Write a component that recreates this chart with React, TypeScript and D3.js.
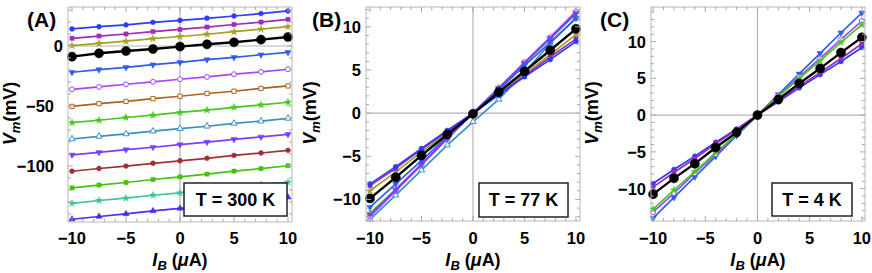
import React, { useEffect, useRef } from "react";
import * as d3 from "d3";

// bias current steps (uA)
const currentAB = [-10, -7.5, -5, -2.5, 0, 2.5, 5, 7.5, 10];
const currentC = [-10, -8, -6, -4, -2, 0, 2, 4, 6, 8, 10];

// T = 300 K
const blueCircleA = [14.2, 16.1, 17.6, 19.7, 21.3, 23.1, 25.0, 27.0, 29.2];
const purpleSquareA = [6.4, 8.3, 10.0, 12.0, 13.8, 15.8, 17.9, 19.9, 22.2];
const oliveStarA = [0.3, 2.2, 4.0, 6.1, 7.9, 9.8, 11.9, 14.1, 16.1];
const blackA = [-8.9, -6.1, -4.2, -2.5, -0.5, 1.4, 3.1, 5.3, 7.5];
const blueDownA = [-21.9, -19.7, -17.8, -15.6, -13.6, -11.4, -9.5, -7.3, -5.3];
const violetOpenA = [-36.1, -34.1, -31.9, -29.9, -27.7, -25.8, -23.5, -21.6, -19.4];
const brownOpenA = [-50.3, -48.1, -46.2, -43.9, -41.9, -39.6, -37.7, -35.4, -33.3];
const greenStarA = [-63.9, -61.9, -59.6, -57.7, -55.4, -53.4, -51.1, -49.1, -46.9];
const steelOpenA = [-77.5, -75.3, -73.3, -71.0, -68.9, -66.9, -64.5, -62.6, -60.3];
const violetDownA = [-90.8, -88.7, -86.4, -84.4, -82.2, -80.1, -77.8, -75.8, -73.6];
const darkRedA = [-104.4, -102.1, -100.1, -97.8, -95.7, -93.6, -91.2, -89.2, -87.0];
const greenSquareA = [-118.3, -115.9, -113.8, -111.3, -109.1, -106.8, -104.3, -102.2, -99.8];
const tealStarA = [-131.1, -128.8, -126.8, -124.4, -122.4, -120.1, -118.1, -115.7, -113.6];
const indigoUpA = [-144.4, -142.1, -140.0, -137.5, -135.3, -133.1, -130.6, -128.5, -126.1];

// T = 77 K
const blueCircleB = [-8.2, -6.2, -4.1, -2.0, 0.0, 2.1, 4.2, 6.2, 8.3];
const purpleSquareB = [-8.4, -6.4, -4.2, -2.1, 0.0, 2.2, 4.3, 6.5, 8.6];
const oliveStarB = [-9.0, -6.8, -4.5, -2.3, 0.0, 2.3, 4.5, 6.8, 9.1];
const blueDownB = [-10.9, -8.2, -5.5, -2.7, 0.0, 2.7, 5.5, 8.2, 11.0];
const violetOpenB = [-12.0, -9.0, -6.0, -3.0, 0.0, 2.9, 5.9, 8.8, 11.8];
const greenStarB = [-11.6, -8.8, -5.9, -2.9, 0.0, 2.9, 5.8, 8.6, 11.5];
const steelOpenB = [-12.3, -9.5, -6.6, -3.7, -1.0, 1.6, 4.7, 8.1, 11.0];
const violetDownB = [-11.8, -8.9, -5.9, -2.9, 0.0, 2.9, 5.8, 8.7, 11.6];
const blackB = [-9.88, -7.44, -4.9, -2.48, -0.08, 2.44, 4.85, 7.29, 9.77];

// T = 4 K
const blueCircleC = [-9.3, -7.4, -5.6, -3.7, -1.9, 0, 1.8, 3.7, 5.5, 7.3, 9.2];
const purpleSquareC = [-9.8, -7.8, -5.9, -3.9, -2.0, 0, 1.9, 3.9, 5.8, 7.7, 9.7];
const greenStarC = [-12.8, -10.2, -7.7, -5.1, -2.6, 0, 2.5, 5.0, 7.4, 9.9, 12.3];
const violetOpenC = [-13.2, -10.6, -7.9, -5.3, -2.6, 0, 2.6, 5.2, 7.7, 10.3, 12.8];
const blueDownC = [-14.0, -11.2, -8.4, -5.6, -2.8, 0, 2.8, 5.6, 8.4, 11.2, 13.9];
const blackC = [-10.75, -8.6, -6.6, -4.4, -2.35, 0, 2.13, 4.3, 6.35, 8.5, 10.57];

const STYLE = {
  blueCircle: { color: "#2c3cff", shape: "circle", open: false },
  purpleSquare: { color: "#a12cb4", shape: "square", open: false },
  oliveStar: { color: "#a3a31f", shape: "star", open: false },
  black: { color: "#000000", shape: "big", open: false },
  blueDown: { color: "#2e5de8", shape: "down", open: false },
  violetOpen: { color: "#a447ff", shape: "circle", open: true },
  brownOpen: { color: "#b0621e", shape: "square", open: true },
  greenStar: { color: "#45c81e", shape: "star", open: false },
  steelOpen: { color: "#3492c4", shape: "up", open: true },
  violetDown: { color: "#7f3cff", shape: "down", open: false },
  darkRed: { color: "#a3302f", shape: "circle", open: false },
  greenSquare: { color: "#44c20f", shape: "square", open: false },
  tealStar: { color: "#3fc592", shape: "star", open: false },
  indigoUp: { color: "#4b2fe6", shape: "up", open: false },
};

const panels = [
  {
    label: "(A)", temp: "T = 300 K", x: currentAB,
    frame: [68, 292, 7, 222], xDomain: [-10.37, 10.37], yDomain: [-146.7, 32.5],
    yMajor: [-100, -50, 0], yMinor: d3.range(-140, 31, 10),
    box: [184, 287, 183, 216], yTitleX: 16,
    series: [
      ["blueCircle", blueCircleA], ["purpleSquare", purpleSquareA], ["oliveStar", oliveStarA],
      ["blueDown", blueDownA], ["violetOpen", violetOpenA], ["brownOpen", brownOpenA],
      ["greenStar", greenStarA], ["steelOpen", steelOpenA], ["violetDown", violetDownA],
      ["darkRed", darkRedA], ["greenSquare", greenSquareA], ["tealStar", tealStarA],
      ["indigoUp", indigoUpA], ["black", blackA],
    ],
  },
  {
    label: "(B)", temp: "T = 77 K", x: currentAB,
    frame: [366, 580, 7, 221], xDomain: [-10.39, 10.39], yDomain: [-12.5, 12.3],
    yMajor: [-10, -5, 0, 5, 10], yMinor: d3.range(-12, 13, 1),
    box: [479, 568, 183, 217], yTitleX: 316,
    series: [
      ["steelOpen", steelOpenB], ["greenStar", greenStarB], ["violetOpen", violetOpenB],
      ["violetDown", violetDownB], ["blueDown", blueDownB], ["oliveStar", oliveStarB],
      ["purpleSquare", purpleSquareB], ["blueCircle", blueCircleB], ["black", blackB],
    ],
  },
  {
    label: "(C)", temp: "T = 4 K", x: currentC,
    frame: [651, 865, 7, 221], xDomain: [-10.2, 10.3], yDomain: [-14.4, 14.7],
    yMajor: [-10, -5, 0, 5, 10], yMinor: d3.range(-14, 15, 1),
    box: [772, 852, 183, 216], yTitleX: 598,
    series: [
      ["blueDown", blueDownC], ["violetOpen", violetOpenC], ["greenStar", greenStarC],
      ["blueCircle", blueCircleC], ["purpleSquare", purpleSquareC], ["black", blackC],
    ],
  },
];

const xMajor = [-10, -5, 0, 5, 10];
const xMinor = d3.range(-10, 11, 1);
const FONT = "'Liberation Sans', Arial, sans-serif";

function markerPath(shape) {
  if (shape === "big") return d3.symbol().type(d3.symbolCircle).size(66)();
  if (shape === "square") return d3.symbol().type(d3.symbolSquare).size(18)();
  if (shape === "star") return d3.symbol().type(d3.symbolStar).size(16)();
  if (shape === "up" || shape === "down") return d3.symbol().type(d3.symbolTriangle).size(17)();
  return d3.symbol().type(d3.symbolCircle).size(19)();
}

const App = () => {
  const ref = useRef();

  useEffect(() => {
    const svg = d3.select(ref.current);
    svg.selectAll("*").remove();

    panels.forEach((p) => {
      const [left, right, top, bottom] = p.frame;
      const x = d3.scaleLinear().domain(p.xDomain).range([left, right]);
      const y = d3.scaleLinear().domain(p.yDomain).range([bottom, top]);
      const g = svg.append("g");

      // zero axes
      g.append("line").attr("x1", x(0)).attr("x2", x(0)).attr("y1", top).attr("y2", bottom)
        .attr("stroke", "#b4b4b4").attr("stroke-width", 1.2);
      g.append("line").attr("x1", left).attr("x2", right).attr("y1", y(0)).attr("y2", y(0))
        .attr("stroke", "#b4b4b4").attr("stroke-width", 1.2);

      // series
      const line = d3.line().x((d) => x(d[0])).y((d) => y(d[1]));
      p.series.forEach(([key, vals]) => {
        const st = STYLE[key];
        const pts = p.x.map((v, i) => [v, vals[i]]);
        const big = st.shape === "big";
        g.append("path").attr("d", line(pts)).attr("fill", "none")
          .attr("stroke", st.color).attr("stroke-width", big ? 2.4 : 1.7);
        g.append("g").selectAll("path").data(pts).join("path")
          .attr("d", markerPath(st.shape))
          .attr("transform", (d) => `translate(${x(d[0])},${y(d[1])})${st.shape === "down" ? " rotate(180)" : ""}`)
          .attr("fill", st.open ? "#ffffff" : st.color)
          .attr("stroke", st.color)
          .attr("stroke-width", st.open ? 1 : 0.5);
      });

      // frame
      g.append("rect").attr("x", left).attr("y", top).attr("width", right - left).attr("height", bottom - top)
        .attr("fill", "none").attr("stroke", "#b8b8b8").attr("stroke-width", 1);

      const tickColor = "#a8a8a8";
      xMinor.forEach((v) => {
        const len = xMajor.includes(v) ? 5 : 3;
        g.append("line").attr("x1", x(v)).attr("x2", x(v)).attr("y1", bottom).attr("y2", bottom - len).attr("stroke", tickColor);
        g.append("line").attr("x1", x(v)).attr("x2", x(v)).attr("y1", top).attr("y2", top + len).attr("stroke", tickColor);
      });
      p.yMinor.forEach((v) => {
        const len = p.yMajor.includes(v) ? 5 : 3;
        g.append("line").attr("y1", y(v)).attr("y2", y(v)).attr("x1", left).attr("x2", left + len).attr("stroke", tickColor);
        g.append("line").attr("y1", y(v)).attr("y2", y(v)).attr("x1", right).attr("x2", right - len).attr("stroke", tickColor);
      });

      const fmt = d3.format("d");
      xMajor.forEach((v) => {
        g.append("text").attr("x", x(v)).attr("y", 244).attr("text-anchor", "middle")
          .attr("font-family", FONT).attr("font-weight", "bold").attr("font-size", 16.5).text(fmt(v));
      });
      p.yMajor.forEach((v) => {
        const lx = p.label === "(A)" ? (v === 0 ? 63 : 54) : left - 5;
        g.append("text").attr("x", lx).attr("y", y(v)).attr("dy", "0.36em").attr("text-anchor", "end")
          .attr("font-family", FONT).attr("font-weight", "bold").attr("font-size", 16.5).text(fmt(v));
      });

      // x title
      const xt = g.append("text").attr("x", (left + right) / 2).attr("y", 266).attr("text-anchor", "middle")
        .attr("font-family", FONT).attr("font-weight", "bold").attr("font-size", 18);
      xt.append("tspan").attr("font-style", "italic").text("I");
      xt.append("tspan").attr("font-style", "italic").attr("font-size", 13).attr("dy", 4).text("B");
      xt.append("tspan").attr("dy", -4).text(" (");
      xt.append("tspan").attr("font-style", "italic").text("μ");
      xt.append("tspan").text("A)");

      // y title
      const yt = g.append("text").attr("transform", `translate(${p.yTitleX},${(top + bottom) / 2 - 1}) rotate(-90)`)
        .attr("text-anchor", "middle").attr("font-family", FONT).attr("font-weight", "bold").attr("font-size", 18);
      yt.append("tspan").attr("font-style", "italic").text("V");
      yt.append("tspan").attr("font-style", "italic").attr("font-size", 13).attr("dy", 4).text("m");
      yt.append("tspan").attr("dy", -4).text("(mV)");

      // panel label
      const lbX = { "(A)": 27, "(B)": 312, "(C)": 600 }[p.label];
      g.append("text").attr("x", lbX).attr("y", 27).attr("font-family", FONT).attr("font-weight", "bold")
        .attr("font-size", 21).text(p.label);

      // temperature box
      const [bl, br, bt, bb] = p.box;
      g.append("rect").attr("x", bl).attr("y", bt).attr("width", br - bl).attr("height", bb - bt)
        .attr("fill", "#ffffff").attr("stroke", "#222").attr("stroke-width", 1.5);
      g.append("text").attr("x", (bl + br) / 2).attr("y", (bt + bb) / 2).attr("dy", "0.36em")
        .attr("text-anchor", "middle").attr("font-family", FONT).attr("font-weight", "bold")
        .attr("font-size", 18).text(p.temp);
    });
  }, []);

  return (
    <svg ref={ref} width={872} height={273} style={{ position: "absolute", left: 0, top: 0, background: "#fff" }}></svg>
  );
};

export default App;
